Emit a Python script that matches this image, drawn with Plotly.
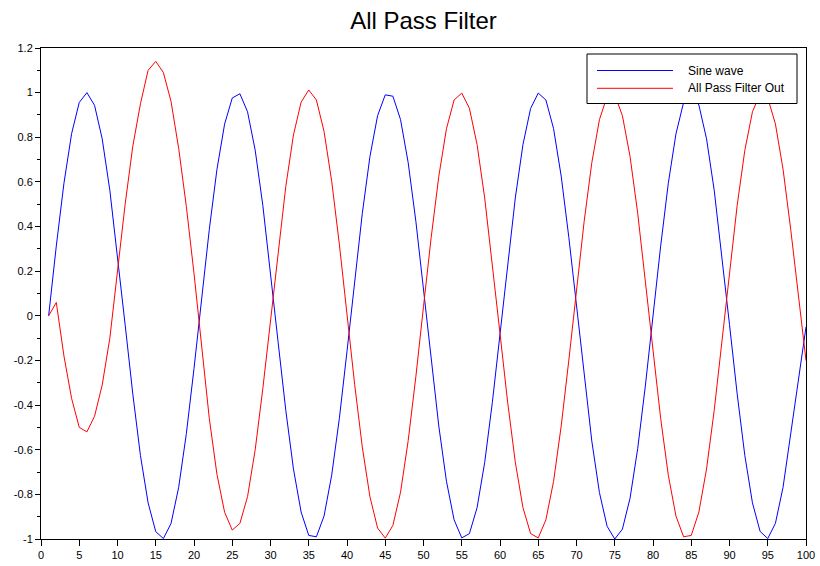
import plotly.graph_objects as go

# ---------------- data ----------------
sample_index = list(range(1, 101))

sine_wave = [
    0.000, 0.313, 0.594, 0.816, 0.956, 1.000, 0.943, 0.793, 0.562, 0.275,
    -0.040, -0.350, -0.626, -0.838, -0.967, -0.998, -0.930, -0.768, -0.528, -0.236,
    0.080, 0.387, 0.656, 0.859, 0.976, 0.995, 0.914, 0.742, 0.494, 0.198,
    -0.119, -0.424, -0.686, -0.879, -0.984, -0.990, -0.897, -0.714, -0.460, -0.159,
    0.158, 0.459, 0.714, 0.897, 0.990, 0.984, 0.879, 0.686, 0.424, 0.119,
    -0.197, -0.494, -0.741, -0.914, -0.995, -0.976, -0.860, -0.657, -0.388, -0.080,
    0.236, 0.528, 0.767, 0.929, 0.998, 0.967, 0.839, 0.626, 0.351, 0.040,
    -0.274, -0.561, -0.792, -0.943, -1.000, -0.956, -0.817, -0.595, -0.314, -0.001,
    0.312, 0.594, 0.815, 0.956, 1.000, 0.944, 0.793, 0.563, 0.276, -0.039,
    -0.349, -0.625, -0.838, -0.966, -0.998, -0.930, -0.768, -0.529, -0.300, -0.050,
]

all_pass_out = [
    0.000, 0.060, -0.180, -0.370, -0.500, -0.520, -0.450, -0.310, -0.100, 0.190,
    0.500, 0.760, 0.950, 1.100, 1.140, 1.090, 0.960, 0.750, 0.490, 0.190,
    -0.140, -0.460, -0.710, -0.880, -0.960, -0.930, -0.810, -0.600, -0.325, -0.018,
    0.295, 0.580, 0.810, 0.957, 1.012, 0.967, 0.826, 0.603, 0.321, 0.007,
    -0.307, -0.588, -0.811, -0.951, -0.996, -0.939, -0.790, -0.559, -0.273, 0.042,
    0.350, 0.625, 0.838, 0.967, 0.998, 0.930, 0.768, 0.528, 0.237, -0.079,
    -0.387, -0.656, -0.859, -0.976, -0.995, -0.914, -0.742, -0.494, -0.198, 0.119,
    0.423, 0.686, 0.879, 0.984, 0.990, 0.897, 0.714, 0.460, 0.159, -0.158,
    -0.459, -0.714, -0.897, -0.990, -0.984, -0.879, -0.686, -0.424, -0.119, 0.197,
    0.494, 0.741, 0.914, 0.995, 0.976, 0.860, 0.657, 0.388, 0.100, -0.200,
]

x_tick_vals = [0, 5, 10, 15, 20, 25, 30, 35, 40, 45, 50, 55, 60, 65, 70, 75, 80, 85, 90, 95, 100]
y_tick_vals = [-1.0, -0.8, -0.6, -0.4, -0.2, 0.0, 0.2, 0.4, 0.6, 0.8, 1.0, 1.2]
y_tick_text = ["-1", "-0.8", "-0.6", "-0.4", "-0.2", "0", "0.2", "0.4", "0.6", "0.8", "1", "1.2"]
y_minor_vals = [-0.9, -0.7, -0.5, -0.3, -0.1, 0.1, 0.3, 0.5, 0.7, 0.9, 1.1]

series_names = ["Sine wave", "All Pass Filter Out"]
series_colors = ["#0000ff", "#ff0000"]

# ---------------- layout geometry (page pixels) ----------------
W, H = 820, 566
L, R, T, B = 41, 806, 48, 539     # plot area in page pixels
FONT = "Liberation Sans, Arial, sans-serif"


def px_x(p):
    return (p - L) / (R - L)


def px_y(p):
    return (B - p) / (B - T)


fig = go.Figure()
for name, ys, col in zip(series_names, [sine_wave, all_pass_out], series_colors):
    fig.add_trace(go.Scatter(
        x=sample_index, y=ys, mode="lines", name=name,
        line=dict(color=col, width=1), showlegend=False,
    ))

# custom legend (box, line samples, labels)
shapes = [dict(type="rect", xref="paper", yref="paper",
               x0=px_x(587), x1=px_x(797), y0=px_y(103.5), y1=px_y(54),
               line=dict(color="#000000", width=1), fillcolor="#ffffff", layer="above")]
annotations = []
for i, (name, col) in enumerate(zip(series_names, series_colors)):
    yy = px_y(70.5 + i * 17.8)
    shapes.append(dict(type="line", xref="paper", yref="paper",
                       x0=px_x(597), x1=px_x(673), y0=yy, y1=yy,
                       line=dict(color=col, width=1), layer="above"))
    annotations.append(dict(text=name, xref="paper", yref="paper",
                            x=px_x(686), y=yy, xanchor="left", yanchor="middle",
                            showarrow=False, font=dict(family=FONT, size=12, color="#000000")))

fig.update_layout(
    width=W, height=H,
    margin=dict(l=L, r=W - R, t=T, b=H - B, pad=0, autoexpand=False),
    paper_bgcolor="#ffffff", plot_bgcolor="#ffffff",
    title=dict(text="All Pass Filter", x=0.5, xref="paper", xanchor="center",
               y=1 - 21 / H, yref="container", yanchor="middle", automargin=False,
               font=dict(family=FONT, size=24, color="#000000")),
    shapes=shapes, annotations=annotations,
    font=dict(family=FONT, size=11, color="#000000"),
    hovermode=False,
)

fig.update_xaxes(
    range=[0, 100], tickmode="array", tickvals=x_tick_vals, automargin=False,
    ticklabeloverflow="allow",
    ticks="outside", ticklen=6, tickcolor="#000000", tickwidth=1,
    showline=True, linecolor="#000000", linewidth=1, mirror=True,
    showgrid=False, zeroline=False,
    tickfont=dict(family=FONT, size=11, color="#000000"),
)
fig.update_yaxes(
    range=[-1, 1.2], tickmode="array", tickvals=y_tick_vals, ticktext=y_tick_text,
    automargin=False, ticklabeloverflow="allow",
    ticks="outside", ticklen=5, tickcolor="#000000", tickwidth=1,
    minor=dict(tickmode="array", tickvals=y_minor_vals, ticks="outside",
               ticklen=3, tickcolor="#000000", showgrid=False),
    showline=True, linecolor="#000000", linewidth=1, mirror=True,
    showgrid=False, zeroline=False,
    tickfont=dict(family=FONT, size=11, color="#000000"),
)

# remove the page's default 8px body margin so the figure sits at the window origin
fig.write_html(
    "out.html",
    config={"displayModeBar": False},
    post_script="document.body.style.margin='0';document.body.style.overflow='hidden';",
)
